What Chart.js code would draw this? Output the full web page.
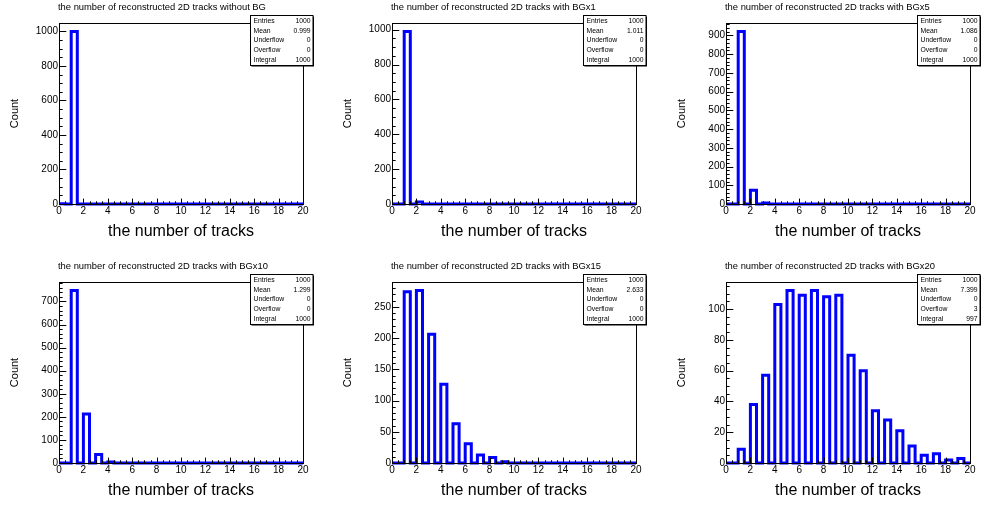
<!DOCTYPE html>
<html>
<head>
<meta charset="utf-8">
<script src="https://cdn.jsdelivr.net/npm/chart.js@4/dist/chart.umd.min.js"></script>
<style>
  html, body { margin: 0; padding: 0; background: #fff; width: 982px; height: 506px; overflow: hidden; }
  canvas { position: absolute; }
</style>
</head>
<body>
<canvas id="h0" width="315" height="247" style="left:0px;top:0px"></canvas>
<canvas id="h1" width="315" height="247" style="left:333px;top:0px"></canvas>
<canvas id="h2" width="315" height="247" style="left:667px;top:0px"></canvas>
<canvas id="h3" width="315" height="247" style="left:0px;top:259px"></canvas>
<canvas id="h4" width="315" height="247" style="left:333px;top:259px"></canvas>
<canvas id="h5" width="315" height="247" style="left:667px;top:259px"></canvas>
<script>
// Lower edge of the filled bin for each track multiplicity (bins are 0.5 wide, range 0-20)
const trackNumbers = [0, 1, 2, 3, 4, 5, 6, 7, 8, 9, 10, 11, 12, 13, 14, 15, 16, 17, 18, 19];
const xTickLabels = ['0', '2', '4', '6', '8', '10', '12', '14', '16', '18', '20'];

// Events per number of reconstructed tracks
const countsNoBG  = [1, 999, 0, 0, 0, 0, 0, 0, 0, 0, 0, 0, 0, 0, 0, 0, 0, 0, 0, 0];
const countsBGx1  = [0, 989, 11, 0, 0, 0, 0, 0, 0, 0, 0, 0, 0, 0, 0, 0, 0, 0, 0, 0];
const countsBGx5  = [0, 920, 74, 6, 0, 0, 0, 0, 0, 0, 0, 0, 0, 0, 0, 0, 0, 0, 0, 0];
const countsBGx10 = [0, 747, 212, 37, 4, 0, 0, 0, 0, 0, 0, 0, 0, 0, 0, 0, 0, 0, 0, 0];
const countsBGx15 = [0, 274, 276, 206, 126, 63, 31, 13, 9, 2, 0, 0, 0, 0, 0, 0, 0, 0, 0, 0];
const countsBGx20 = [0, 9, 38, 57, 103, 112, 109, 112, 108, 109, 70, 60, 34, 28, 21, 11, 5, 6, 2, 3];

const titles = [
  'the number of reconstructed 2D tracks without BG',
  'the number of reconstructed 2D tracks with BGx1',
  'the number of reconstructed 2D tracks with BGx5',
  'the number of reconstructed 2D tracks with BGx10',
  'the number of reconstructed 2D tracks with BGx15',
  'the number of reconstructed 2D tracks with BGx20'
];

// Y tick labels per histogram
const yTicksNoBG  = ['0', '200', '400', '600', '800', '1000'];
const yTicksBGx1  = ['0', '200', '400', '600', '800', '1000'];
const yTicksBGx5  = ['0', '100', '200', '300', '400', '500', '600', '700', '800', '900'];
const yTicksBGx10 = ['0', '100', '200', '300', '400', '500', '600', '700'];
const yTicksBGx15 = ['0', '50', '100', '150', '200', '250'];
const yTicksBGx20 = ['0', '20', '40', '60', '80', '100'];

// Statistics box contents
const statEntries  = ['1000', '1000', '1000', '1000', '1000', '1000'];
const statMean     = ['0.999', '1.011', '1.086', '1.299', '2.633', '7.399'];
const statUnder    = ['0', '0', '0', '0', '0', '0'];
const statOver     = ['0', '0', '0', '0', '0', '3'];
const statIntegral = ['1000', '1000', '1000', '1000', '1000', '997'];

// Minor tick spacing per histogram
const yMinorStep = [50, 50, 20, 20, 10, 5];
const xMinorStep = 0.5;

const allCounts = [countsNoBG, countsBGx1, countsBGx5, countsBGx10, countsBGx15, countsBGx20];
const allYTicks = [yTicksNoBG, yTicksBGx1, yTicksBGx5, yTicksBGx10, yTicksBGx15, yTicksBGx20];
const BIN_WIDTH = 0.5;
const X_MAX = 20;
const FONT = "'Liberation Sans', Arial, Helvetica, sans-serif";

// Step outline of a fixed-width histogram: value at each bin's left edge
function outline(counts) {
  const pts = [];
  counts.forEach((c, i) => {
    pts.push({ x: trackNumbers[i], y: c });
    pts.push({ x: trackNumbers[i] + BIN_WIDTH, y: 0 });
  });
  pts.push({ x: X_MAX, y: 0 });
  return pts;
}

// Frame, inward ticks, title and statistics box
const histDecor = {
  id: 'histDecor',
  afterDatasetsDraw(chart, args, opts) {
    const { ctx, chartArea: a, scales: { x, y } } = chart;
    ctx.save();
    ctx.strokeStyle = '#000';
    ctx.lineWidth = 1;
    ctx.strokeRect(Math.round(a.left) + 0.5, Math.round(a.top) + 0.5,
                   Math.round(a.right - a.left), Math.round(a.bottom - a.top));
    ctx.beginPath();
    // y ticks on the left edge: majors at labelled values, minors between
    const yMajLen = 0.03 * (a.right - a.left), yMinLen = yMajLen / 2;
    const majors = opts.yMajors;
    for (let v = 0; v <= y.max + 1e-9; v += opts.yMinor) {
      const py = Math.round(y.getPixelForValue(v)) + 0.5;
      const isMajor = majors.some(m => Math.abs(m - v) < 1e-6);
      ctx.moveTo(a.left, py);
      ctx.lineTo(a.left + (isMajor ? yMajLen : yMinLen), py);
    }
    // x ticks on the bottom edge
    const xMajLen = 0.03 * (a.bottom - a.top), xMinLen = xMajLen / 2;
    const xMajors = xTickLabels.map(Number);
    for (let v = 0; v <= X_MAX + 1e-9; v += xMinorStep) {
      const px = Math.round(x.getPixelForValue(v)) + 0.5;
      const isMajor = xMajors.some(m => Math.abs(m - v) < 1e-6);
      ctx.moveTo(px, a.bottom);
      ctx.lineTo(px, a.bottom - (isMajor ? xMajLen : xMinLen));
    }
    ctx.stroke();

    // histogram title
    ctx.fillStyle = '#000';
    ctx.font = '9.4px ' + FONT;
    ctx.textAlign = 'left';
    ctx.textBaseline = 'middle';
    ctx.fillText(opts.title, a.left - 1, 7);

    // statistics box with drop shadow
    const bw = 62.5, bh = 50;
    const bx = Math.round(a.right + 9.4 - bw) + 0.5, by = Math.round(a.top - 8) + 0.5;
    ctx.fillStyle = '#000';
    ctx.fillRect(bx + 1, by + 1, bw, bh);
    ctx.fillStyle = '#fff';
    ctx.fillRect(bx, by, bw, bh);
    ctx.strokeRect(bx, by, bw, bh);
    ctx.fillStyle = '#000';
    ctx.font = '6.8px ' + FONT;
    const rows = [['Entries', opts.stats[0]], ['Mean', opts.stats[1]], ['Underflow', opts.stats[2]],
                  ['Overflow', opts.stats[3]], ['Integral', opts.stats[4]]];
    rows.forEach((r, i) => {
      const ty = by + 5.5 + 9.7 * i;
      ctx.textAlign = 'left';
      ctx.fillText(r[0], bx + 3, ty);
      ctx.textAlign = 'right';
      ctx.fillText(r[1], bx + bw - 2.5, ty);
    });
    ctx.restore();
  }
};

allCounts.forEach((counts, k) => {
  const yMax = 1.05 * Math.max(...counts);
  const yLabels = allYTicks[k];
  new Chart(document.getElementById('h' + k), {
    type: 'line',
    data: {
      datasets: [{
        data: outline(counts),
        borderColor: '#0000ff',
        borderWidth: 3,
        pointRadius: 0,
        stepped: true,
        fill: false,
        clip: false,
        borderJoinStyle: 'miter',
        borderCapStyle: 'butt'
      }]
    },
    options: {
      responsive: false,
      animation: false,
      devicePixelRatio: 1,
      events: [],
      layout: { padding: { top: 23, right: 12, bottom: 0, left: 0 } },
      plugins: {
        legend: { display: false },
        tooltip: { enabled: false },
        title: { display: false },
        histDecor: {
          title: titles[k],
          yMajors: yLabels.map(Number),
          yMinor: yMinorStep[k],
          stats: [statEntries[k], statMean[k], statUnder[k], statOver[k], statIntegral[k]]
        }
      },
      scales: {
        x: {
          type: 'linear', min: 0, max: X_MAX,
          grid: { display: false, drawTicks: false, tickLength: 0 }, border: { display: false },
          afterBuildTicks(s) { s.ticks = xTickLabels.map(t => ({ value: Number(t) })); },
          ticks: {
            callback: (v) => xTickLabels.find(t => Number(t) === v),
            autoSkip: false, maxRotation: 0, padding: 1,
            font: { family: FONT, size: 10 }, color: '#000'
          },
          title: {
            display: true, text: 'the number of tracks',
            font: { family: FONT, size: 16 }, color: '#000',
            padding: { top: 0, bottom: 5.4 }
          },
          afterFit(s) { s.height = 43; }
        },
        y: {
          type: 'linear', min: 0, max: yMax,
          grid: { display: false, drawTicks: false, tickLength: 0 }, border: { display: false },
          afterBuildTicks(s) { s.ticks = yLabels.map(t => ({ value: Number(t) })); },
          ticks: {
            callback: (v) => yLabels.find(t => Number(t) === v),
            autoSkip: false, padding: 1,
            font: { family: FONT, size: 10 }, color: '#000'
          },
          title: {
            display: true, text: 'Count',
            font: { family: FONT, size: 11 }, color: '#000',
            padding: { top: 8.2, bottom: 0 }
          },
          afterFit(s) { s.width = 59; }
        }
      }
    },
    plugins: [histDecor]
  });
});
</script>
</body>
</html>
